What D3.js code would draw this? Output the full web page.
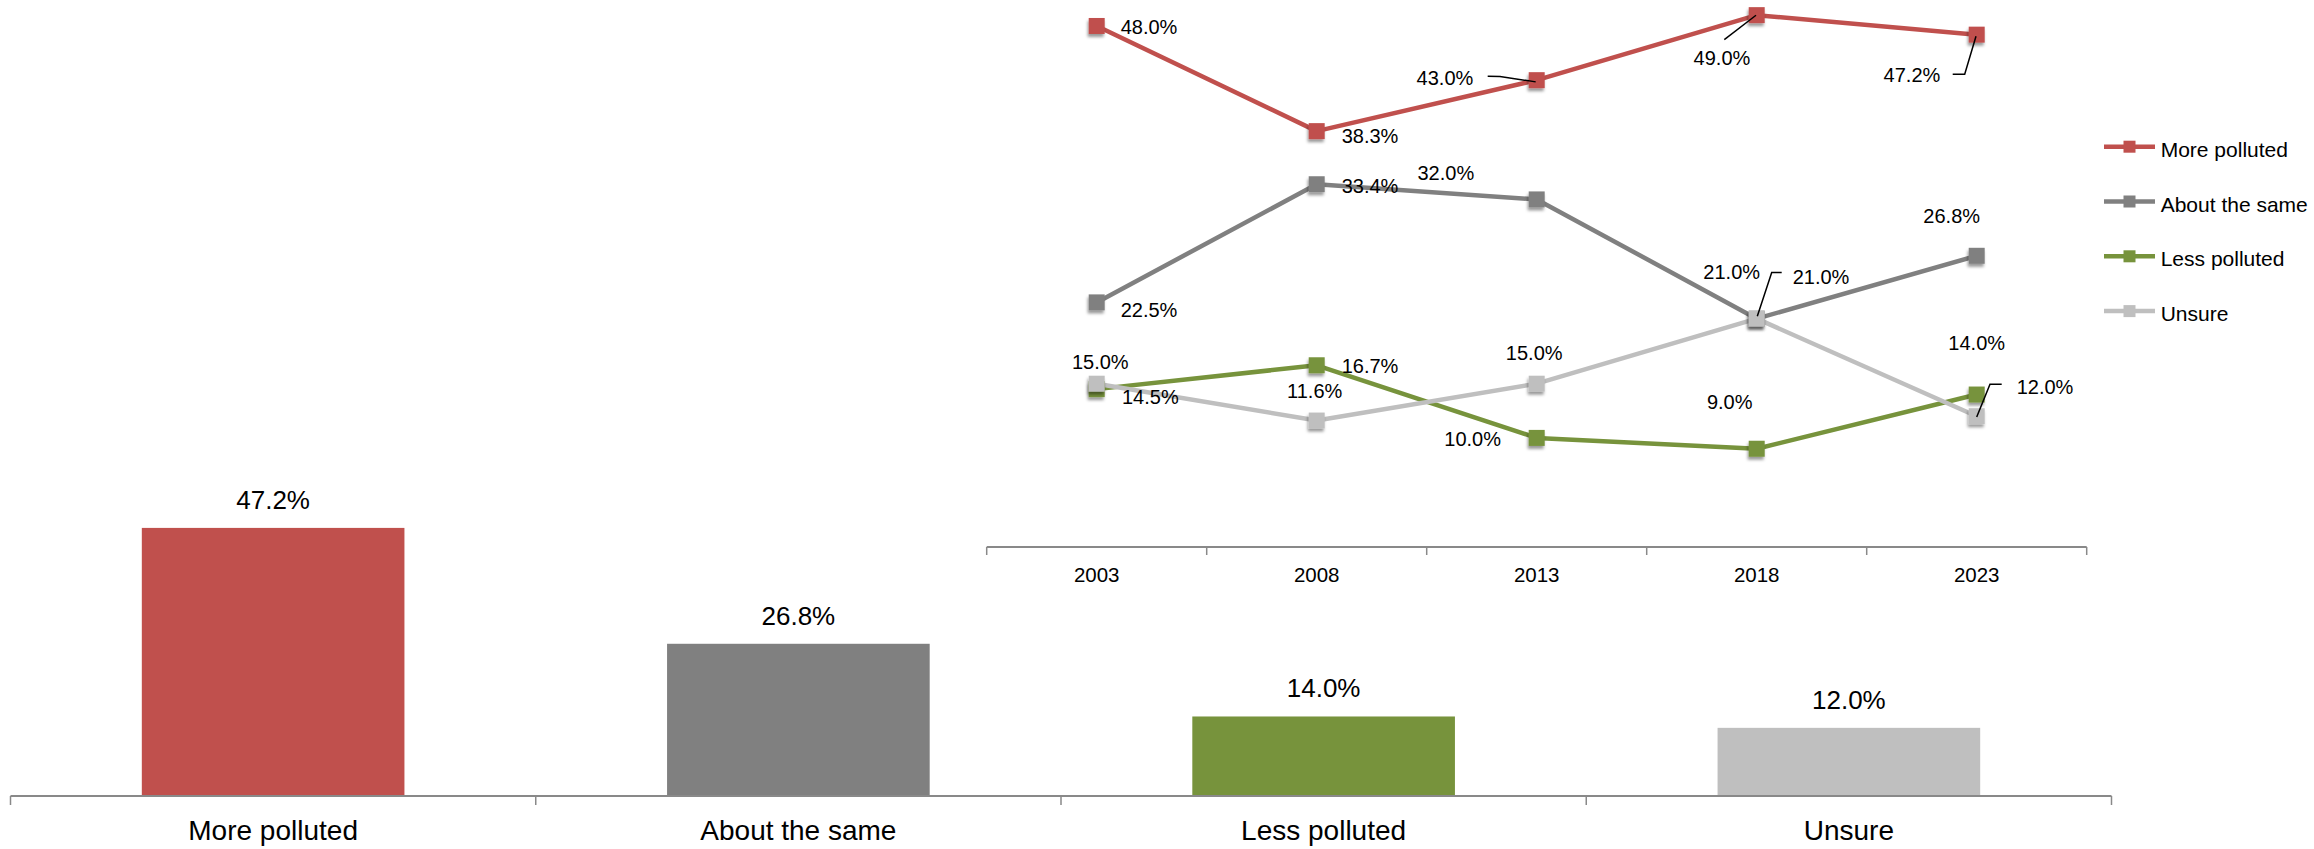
<!DOCTYPE html>
<html>
<head>
<meta charset="utf-8">
<script src="https://cdn.jsdelivr.net/npm/d3@7/dist/d3.min.js"></script>
<style>
  html, body { margin: 0; padding: 0; background: #fff; }
  svg { display: block; }
  text { font-family: "Liberation Sans", Arial, Helvetica, sans-serif; fill: #000; }
</style>
</head>
<body>
<svg id="chart" width="2314" height="849"></svg>
<script>
// ---------- DATA ----------
const barCategories = ["More polluted", "About the same", "Less polluted", "Unsure"];
const barValues = [47.2, 26.8, 14.0, 12.0];

const years = ["2003", "2008", "2013", "2018", "2023"];
const seriesNames = ["More polluted", "About the same", "Less polluted", "Unsure"];
const morePolluted = [48.0, 38.3, 43.0, 49.0, 47.2];
const aboutSame = [22.5, 33.4, 32.0, 21.0, 26.8];
const lessPolluted = [14.5, 16.7, 10.0, 9.0, 14.0];
const unsure = [15.0, 11.6, 15.0, 21.0, 12.0];

// ---------- STYLE / LAYOUT ----------
const colors = ["#C0504D", "#808080", "#77933C", "#BFBFBF"];
const axisColor = "#898989";

// label placement per series point: [dx, dy(baseline), anchor, leader points relative to marker]
const labelLayout = [
  [ [24, 8.5, "start"], [25, 12, "start"],
    [-63.4, 5, "end", [[-49,-4],[-36.7,-3.7],[-1,1.7]]],
    [-6.4, 50, "end", [[-32.4,24.4],[-0.7,0.1]]],
    [-36.4, 47.3, "end", [[-24,39.6],[-12,39.6],[-0.7,1.6]]] ],
  [ [24, 14.5, "start"], [25, 9, "start"], [-62.5, -19.2, "end"], [-25, -39.2, "middle"], [-25, -32.3, "middle"] ],
  [ [25.3, 14.4, "start"], [25, 7.6, "start"], [-35.7, 8, "end"], [-27, -40.2, "middle"], [0, -44.3, "middle"] ],
  [ [3.6, -15.2, "middle"], [-2, -23, "middle"], [-2.5, -23.5, "middle"],
    [36, -34.2, "start", [[25,-46.2],[15,-46.2],[0.6,-2.5]]],
    [40, -22.7, "start", [[25,-32],[13.3,-32],[0,0.7]]] ]
];

const svg = d3.select("#chart");
const defs = svg.append("defs");
const f = defs.append("filter").attr("id", "shadow").attr("x", "-50%").attr("y", "-50%").attr("width", "200%").attr("height", "200%");
f.append("feDropShadow").attr("dx", -1).attr("dy", 3).attr("stdDeviation", 1.6)
  .attr("flood-color", "#000").attr("flood-opacity", 0.4);

// ---------- BAR CHART ----------
const bx = d3.scaleBand().domain(barCategories).range([10.5, 2111.5]).paddingInner(0.5).paddingOuter(0.25);
const by = d3.scaleLinear().domain([0, 50]).range([796, 512]);

const barG = svg.append("g");
barG.selectAll("rect.bar").data(barCategories).join("rect")
  .attr("class", "bar")
  .attr("x", d => bx(d))
  .attr("width", bx.bandwidth())
  .attr("y", (d, i) => by(barValues[i]))
  .attr("height", (d, i) => by(0) - by(barValues[i]))
  .attr("fill", (d, i) => colors[i]);

barG.selectAll("text.val").data(barCategories).join("text")
  .attr("class", "val")
  .attr("x", d => bx(d) + bx.bandwidth() / 2)
  .attr("y", (d, i) => by(barValues[i]) - 19)
  .attr("text-anchor", "middle")
  .attr("font-size", 26)
  .text((d, i) => barValues[i].toFixed(1) + "%");

// axis
const bStep = bx.step();
const bStart = bx.range()[0];
barG.append("line")
  .attr("x1", bStart).attr("x2", bx.range()[1])
  .attr("y1", by(0)).attr("y2", by(0))
  .attr("stroke", axisColor).attr("stroke-width", 2);
barG.selectAll("line.tick").data(d3.range(barCategories.length + 1)).join("line")
  .attr("class", "tick")
  .attr("x1", i => bStart + i * bStep).attr("x2", i => bStart + i * bStep)
  .attr("y1", by(0)).attr("y2", by(0) + 9)
  .attr("stroke", axisColor).attr("stroke-width", 1.5);
barG.selectAll("text.cat").data(barCategories).join("text")
  .attr("class", "cat")
  .attr("x", d => bx(d) + bx.bandwidth() / 2)
  .attr("y", 840)
  .attr("text-anchor", "middle")
  .attr("font-size", 28)
  .text(d => d);

// ---------- LINE CHART ----------
const lx = d3.scaleBand().domain(years).range([986.7, 2086.7]).padding(0);
const ly = d3.scaleLinear().domain([0, 50]).range([546.3, 4.3]);
const cx = d => lx(d) + lx.bandwidth() / 2;

const lineG = svg.append("g");
lineG.append("line")
  .attr("x1", lx.range()[0]).attr("x2", lx.range()[1])
  .attr("y1", 547).attr("y2", 547)
  .attr("stroke", axisColor).attr("stroke-width", 2);
lineG.selectAll("line.tick").data(d3.range(years.length + 1)).join("line")
  .attr("class", "tick")
  .attr("x1", i => lx.range()[0] + i * lx.step()).attr("x2", i => lx.range()[0] + i * lx.step())
  .attr("y1", 547).attr("y2", 555)
  .attr("stroke", axisColor).attr("stroke-width", 1.5);
lineG.selectAll("text.year").data(years).join("text")
  .attr("class", "year")
  .attr("x", d => cx(d))
  .attr("y", 582)
  .attr("text-anchor", "middle")
  .attr("font-size", 20.5)
  .text(d => d);

const allSeries = [morePolluted, aboutSame, lessPolluted, unsure];
const line = d3.line().x((v, i) => cx(years[i])).y(v => ly(v));

allSeries.forEach((vals, s) => {
  lineG.append("path").datum(vals)
    .attr("d", line)
    .attr("fill", "none")
    .attr("stroke", colors[s])
    .attr("stroke-width", 4.5)
    .attr("stroke-linejoin", "round");
});
allSeries.forEach((vals, s) => {
  lineG.append("g").selectAll("rect").data(vals).join("rect")
    .attr("x", (v, i) => cx(years[i]) - 8)
    .attr("y", v => ly(v) - 8)
    .attr("width", 16).attr("height", 16)
    .attr("fill", colors[s])
    .attr("filter", "url(#shadow)");
});

// leader lines and labels
allSeries.forEach((vals, s) => {
  vals.forEach((v, i) => {
    const px = cx(years[i]), py = ly(v);
    const L = labelLayout[s][i];
    if (L[3]) {
      lineG.append("polyline")
        .attr("points", L[3].map(p => (px + p[0]) + "," + (py + p[1])).join(" "))
        .attr("fill", "none").attr("stroke", "#000").attr("stroke-width", 1.5);
    }
    lineG.append("text")
      .attr("x", px + L[0]).attr("y", py + L[1])
      .attr("text-anchor", L[2])
      .attr("font-size", 20)
      .text(v.toFixed(1) + "%");
  });
});

// legend
const legend = svg.append("g");
seriesNames.forEach((name, s) => {
  const y = 146.7 + s * 54.8;
  legend.append("line").attr("x1", 2104).attr("x2", 2155).attr("y1", y).attr("y2", y)
    .attr("stroke", colors[s]).attr("stroke-width", 4.5);
  legend.append("rect").attr("x", 2129.5 - 6).attr("y", y - 6).attr("width", 12).attr("height", 12)
    .attr("fill", colors[s]);
  legend.append("text").attr("x", 2160.7).attr("y", y + 10).attr("font-size", 21).text(name);
});
</script>
</body>
</html>
